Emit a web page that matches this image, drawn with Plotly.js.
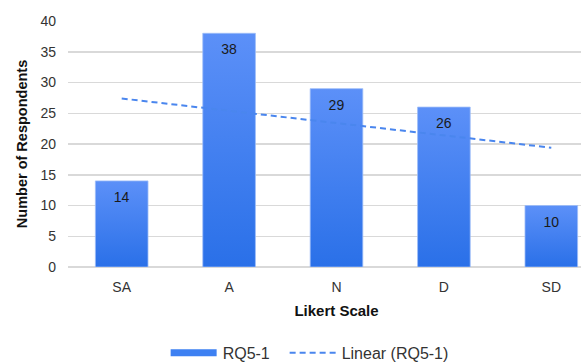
<!DOCTYPE html>
<html>
<head>
<meta charset="utf-8">
<script src="https://cdn.plot.ly/plotly-3.0.1.min.js"></script>
<style>
  html, body { margin: 0; padding: 0; background: #fff; overflow: hidden; }
  #chart { width: 581px; height: 362px; overflow: hidden; }
</style>
</head>
<body>
<div id="chart"></div>
<script>
// Survey responses for RQ5-1 on a five-point Likert scale
const categories = ['SA', 'A', 'N', 'D', 'SD'];
const respondents = [14, 38, 29, 26, 10];
const seriesName = 'RQ5-1';
const trendName = 'Linear (RQ5-1)';

// Least-squares linear trendline over category positions 1..n
function linearTrend(values) {
  const n = values.length;
  const xs = values.map((_, i) => i + 1);
  const mx = xs.reduce((a, b) => a + b, 0) / n;
  const my = values.reduce((a, b) => a + b, 0) / n;
  let sxy = 0, sxx = 0;
  xs.forEach((x, i) => { sxy += (x - mx) * (values[i] - my); sxx += (x - mx) * (x - mx); });
  const slope = sxy / sxx;
  return xs.map(x => my + slope * (x - mx));
}
const trend = linearTrend(respondents);

const font = 'Liberation Sans, Arial, sans-serif';

const traces = [
  {
    type: 'bar',
    x: categories,
    y: respondents,
    text: respondents.map(String),
    textposition: 'inside',
    insidetextanchor: 'end',
    textangle: 0,
    textfont: { family: font, size: 14, color: '#1a1a1a' },
    marker: { color: '#3d80f2', line: { color: '#9dbdf7', width: 0.8 } },
    showlegend: false,
    hoverinfo: 'x+y'
  },
  {
    // legend entry for the bar series, drawn as a thick bar swatch
    type: 'scatter',
    mode: 'lines',
    x: [null],
    y: [null],
    name: seriesName,
    line: { color: '#3d80f2', width: 7 },
    hoverinfo: 'skip'
  },
  {
    type: 'scatter',
    mode: 'lines',
    x: categories,
    y: trend,
    name: trendName,
    line: { color: '#4a86ee', width: 2, dash: '6px,4px' },
    hoverinfo: 'skip'
  }
];

const layout = {
  width: 620,
  height: 362,
  margin: { l: 68, r: 15, t: 21, b: 95 },
  paper_bgcolor: '#fff',
  plot_bgcolor: '#fff',
  bargap: 0.51,
  font: { family: font, size: 14, color: '#333' },
  xaxis: {
    type: 'category',
    range: [-0.5, 4.5],
    automargin: false,
    showgrid: false,
    showline: false,
    zeroline: false,
    ticks: '',
    tickfont: { family: font, size: 14, color: '#333' },
    ticklabelstandoff: 10,
    title: { text: 'Likert Scale', font: { family: font, size: 15, color: '#111', weight: 'bold' }, standoff: 11 }
  },
  yaxis: {
    range: [0, 40],
    dtick: 5,
    automargin: false,
    showgrid: true,
    gridcolor: '#d9d9d9',
    gridwidth: 1.5,
    zeroline: true,
    zerolinecolor: '#d9d9d9',
    zerolinewidth: 1.5,
    showline: false,
    ticks: '',
    tickfont: { family: font, size: 14, color: '#333' },
    ticklabelstandoff: 11,
    title: { text: 'Number of Respondents', font: { family: font, size: 14.5, color: '#111', weight: 'bold' }, standoff: 9 }
  },
  legend: {
    orientation: 'h',
    xref: 'container',
    yref: 'container',
    x: 0.272,
    xanchor: 'left',
    y: 0.025,
    yanchor: 'middle',
    font: { family: font, size: 16, color: '#333' },
    itemwidth: 44,
    entrywidth: 60,
    tracegroupgap: 0
  },
  showlegend: true
};

Plotly.newPlot('chart', traces, layout, { displayModeBar: false, staticPlot: true }).then(gd => {
  const svg = gd.querySelector('svg.main-svg');
  const ns = 'http://www.w3.org/2000/svg';

  // vertical gradient fill for the bars, lighter at the top
  let defs = svg.querySelector('defs');
  if (!defs) { defs = document.createElementNS(ns, 'defs'); svg.insertBefore(defs, svg.firstChild); }
  const grad = document.createElementNS(ns, 'linearGradient');
  grad.setAttribute('id', 'barGradient');
  grad.setAttribute('x1', '0'); grad.setAttribute('y1', '0');
  grad.setAttribute('x2', '0'); grad.setAttribute('y2', '1');
  [['0%', '#5c90f8'], ['100%', '#2a70e8']].forEach(([off, col]) => {
    const s = document.createElementNS(ns, 'stop');
    s.setAttribute('offset', off);
    s.setAttribute('stop-color', col);
    grad.appendChild(s);
  });
  defs.appendChild(grad);
  gd.querySelectorAll('.barlayer .point path').forEach(p => { p.style.fill = 'url(#barGradient)'; });

  // sit the value labels a little lower inside the bar tops
  gd.querySelectorAll('.barlayer .point text').forEach(t => {
    const tr = t.getAttribute('transform') || '';
    t.setAttribute('transform', 'translate(0,5) ' + tr);
  });

  // stretch the legend swatches to fill the item width
  gd.querySelectorAll('.legend .legendlines path').forEach(p => {
    p.setAttribute('d', 'M2,0h46');
  });

  // let the last legend label run past the fixed entry width
  gd.querySelectorAll('.legend .scrollbox, .legend [clip-path]').forEach(el => {
    el.removeAttribute('clip-path');
  });
});
</script>
</body>
</html>
